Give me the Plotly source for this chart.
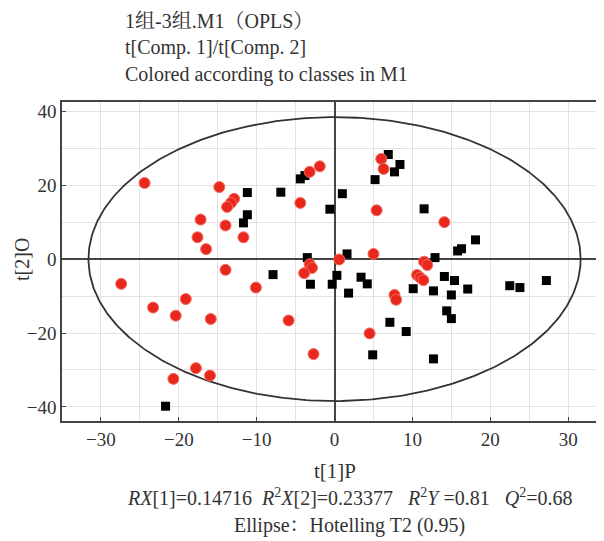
import numpy as np
import plotly.graph_objects as go

# Class 1 (black squares) scores
black_t1 = [-11.2, -6.9, -4.4, -3.8, -0.6, -11.2, -11.7, 1.0, 5.2, 6.9, 8.4, 7.7, 11.5, 18.1,
            16.3, 15.8, 12.9, 1.6, -3.5, -7.9, -3.1, 0.3, -0.3, 1.8, 3.4, 4.2, 10.1, 12.7,
            14.1, 15.4, 15.0, 17.1, 22.5, 23.8, 27.2, 14.4, 15.0, 7.1, 9.2, 4.9, 12.7, -21.7]
black_t2 = [18.0, 18.1, 21.7, 22.6, 13.5, 12.0, 9.8, 17.7, 21.5, 28.3, 25.6, 23.6, 13.6, 5.2,
            2.8, 2.2, 0.4, 1.4, 0.4, -4.2, -6.8, -4.4, -6.8, -9.2, -4.9, -6.7, -8.0, -8.6,
            -4.7, -5.8, -9.7, -8.1, -7.2, -7.7, -5.8, -14.0, -16.1, -17.1, -19.6, -25.9, -27.0, -39.8]

# Class 2 (red circles) scores
red_t1 = [-24.4, -14.8, -3.2, -1.9, -4.4, -12.9, -13.3, -13.8, -17.2, -14.0, -17.6, -16.5, -11.7,
          6.0, 6.3, 5.4, 14.1, -3.2, -2.9, -3.9, 0.6, 5.0, 7.7, 7.9, 11.5, 11.9, 10.6, 11.0, 11.4,
          -14.0, -10.1, -27.4, -19.1, -23.3, -20.4, -15.9, -5.9, -2.7, -17.8, -16.0, -20.7, 4.5]
red_t2 = [20.6, 19.5, 23.6, 25.1, 15.2, 16.3, 15.2, 14.1, 10.7, 9.1, 5.9, 2.7, 5.9,
          27.1, 24.4, 13.2, 10.0, -1.4, -2.4, -3.8, -0.1, 1.4, -9.7, -11.0, -0.7, -1.6, -4.3, -5.0, -5.7,
          -2.9, -7.7, -6.7, -10.8, -13.1, -15.3, -16.2, -16.6, -25.7, -29.5, -31.5, -32.4, -20.1]

# Hotelling T2 (0.95) ellipse semi-axes
ellipse_a = 31.6
ellipse_b = 38.4

title_lines = ["1组-3组.M1（OPLS）", "t[Comp. 1]/t[Comp. 2]", "Colored according to classes in M1"]
x_label = "t[1]P"
y_label = "t[2]O"
stats_text = ("<i>RX</i>[1]=0.14716\u00a0\u00a0<i>R</i><sup>2</sup><i>X</i>[2]=0.23377"
              "\u00a0\u00a0\u00a0<i>R</i><sup>2</sup><i>Y</i>\u00a0=0.81\u00a0\u00a0\u00a0"
              "<i>Q</i><sup>2</sup>=0.68")
ellipse_text = "Ellipse：Hotelling T2 (0.95)"

FONT = "Liberation Serif, Times New Roman, Noto Serif CJK SC, Noto Sans CJK SC, serif"
TXT = "#333333"

# page body has an 8px default margin; plot area (page px): x 62..604, y 102..421
PL, PR, PT, PB = 62, 604, 102, 421
def px(x):
    return (x - PL) / (PR - PL)
def py(y):
    return (PB - y) / (PB - PT)

theta = np.linspace(0, 2 * np.pi, 400)
ex = ellipse_a * np.cos(theta)
ey = ellipse_b * np.sin(theta)

fig = go.Figure()
fig.add_trace(go.Scatter(x=ex, y=ey, mode="lines", line=dict(color="#333333", width=1.8),
                         hoverinfo="skip", showlegend=False))
fig.add_trace(go.Scatter(x=black_t1, y=black_t2, mode="markers",
                         marker=dict(symbol="square", size=9, color="#000000"),
                         showlegend=False))
fig.add_trace(go.Scatter(x=red_t1, y=red_t2, mode="markers",
                         marker=dict(symbol="circle", size=11, color="#e8281c",
                                     line=dict(color="#f46a5e", width=1)),
                         showlegend=False))

fig.update_layout(
    width=596, height=533,
    margin=dict(l=PL - 8, r=0, t=PT - 8, b=533 - (PB - 8), autoexpand=False),
    paper_bgcolor="white", plot_bgcolor="white",
    font=dict(family=FONT, size=16, color=TXT),
    xaxis=dict(range=[-35, 34.6], dtick=10, tick0=0, ticks="inside", ticklen=4,
               tickcolor="#444", showline=True, mirror=True, linecolor="#444", linewidth=1.5,
               showgrid=True, gridcolor="#e6e0e0", gridwidth=1,
               minor=dict(dtick=5, showgrid=True, gridcolor="#e6e0e0"),
               zeroline=True, zerolinecolor="#444", zerolinewidth=1.5, automargin=False,
               tickfont=dict(size=19, color=TXT)),
    yaxis=dict(range=[-43.8, 42.5], dtick=20, tick0=0, ticks="inside", ticklen=4,
               tickcolor="#444", showline=True, mirror=False, linecolor="#444", linewidth=1.5,
               showgrid=True, gridcolor="#e6e0e0", gridwidth=1,
               minor=dict(dtick=10, showgrid=True, gridcolor="#e6e0e0"),
               zeroline=True, zerolinecolor="#444", zerolinewidth=1.5, automargin=False,
               tickfont=dict(size=19, color=TXT)),
)

for line, ycen in zip(title_lines, [21, 47, 74]):
    fig.add_annotation(text=line, xref="paper", yref="paper", x=px(123), y=py(ycen),
                       xanchor="left", yanchor="middle", showarrow=False,
                       font=dict(size=20, color=TXT, family=FONT))

fig.add_annotation(text=x_label, xref="paper", yref="paper", x=px(335), y=py(471),
                   xanchor="center", yanchor="middle", showarrow=False,
                   font=dict(size=21, color=TXT, family=FONT))
fig.add_annotation(text=y_label, xref="paper", yref="paper", x=px(22), y=py(260),
                   xanchor="center", yanchor="middle", showarrow=False, textangle=-90,
                   font=dict(size=20, color=TXT, family=FONT))

fig.add_annotation(text=stats_text, xref="paper", yref="paper", x=px(349.5), y=py(497),
                   xanchor="center", yanchor="middle", showarrow=False,
                   font=dict(size=20, color=TXT, family=FONT))
fig.add_annotation(text=ellipse_text, xref="paper", yref="paper", x=px(349), y=py(525),
                   xanchor="center", yanchor="middle", showarrow=False,
                   font=dict(size=20, color=TXT, family=FONT))

fig.write_html("out.html")
